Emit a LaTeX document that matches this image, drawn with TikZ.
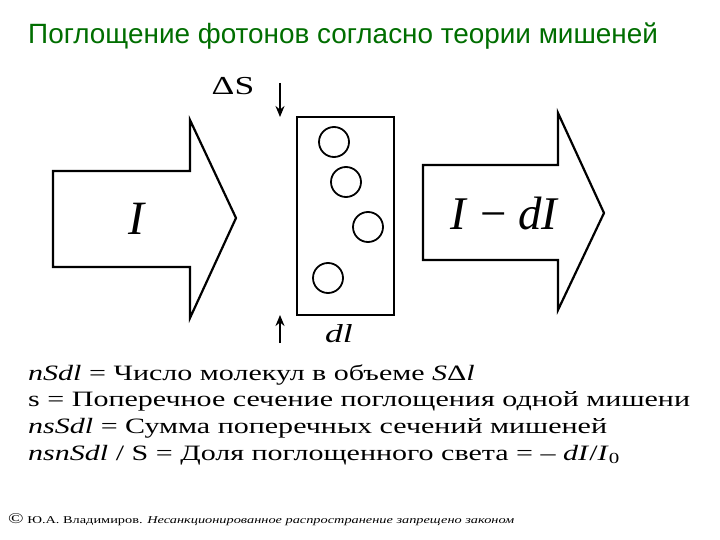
\documentclass[tikz,border=0pt]{standalone}
\usepackage{fontspec}
\usetikzlibrary{arrows.meta}
\setmainfont{Liberation Serif}
\newfontfamily\titlefont{Liberation Sans}
\newfontfamily\notefont{Liberation Serif}[FakeStretch=1.37]
\definecolor{titlegreen}{RGB}{0,110,0}
\begin{document}
\begin{tikzpicture}[x=1bp,y=-1bp]
\tikzstyle{beam}=[draw=black,line width=2.2bp,line join=miter,fill=white]
\tikzstyle{target}=[draw=black,line width=1.8bp]
\tikzstyle{label}=[anchor=base,inner sep=0pt]
\tikzstyle{arrow}=[-{Stealth[length=11bp,width=9bp]},line width=2bp]
\tikzstyle{line}=[anchor=base west,inner sep=0pt,font=\notefont\fontsize{22}{26}\selectfont]

\useasboundingbox [fill=white] (0,0) rectangle (720,540);

\node [anchor=base west,inner sep=0pt,text=titlegreen,font=\titlefont\fontsize{28}{32}\selectfont] at (28,44) (title) {Поглощение фотонов согласно теории мишеней};

% incoming and outgoing beam
\draw [beam] (53,171) -- (190,171) -- (190,120) -- (236,218) -- (190,318) -- (190,267) -- (53,267) -- cycle;
\draw [beam] (423,165) -- (558,165) -- (558,113) -- (604,213) -- (558,310) -- (558,260) -- (423,260) -- cycle;
\node [label,font=\fontsize{48}{48}\selectfont] at (137,235) (in) {\textit{I}};
\node [label,font=\fontsize{47}{47}\selectfont] at (505,230) (out) {\textit{I} − \textit{dI}};

% layer with targets
\draw [target] (297,117) rectangle (394,315);
\draw [target] (334,142) circle (15);
\draw [target] (346,182) circle (15);
\draw [target] (368,227) circle (15);
\draw [target] (328,278) circle (15);

\node [label,font=\notefont\fontsize{26}{26}\selectfont] at (233,95) (area) {ΔS};
\node [label,font=\notefont\fontsize{26}{26}\selectfont] at (339,342) (dl) {\textit{dl}};
\coordinate (top1) at (280,83);
\coordinate (top2) at (280,117);
\coordinate (bot1) at (280,343);
\coordinate (bot2) at (280,315);
\draw [arrow] (top1) -- (top2);
\draw [arrow] (bot1) -- (bot2);

\node [line] at (28,380) (l1) {\textit{nSdl} = Число молекул в объеме \textit{S}Δ\textit{l}};
\node [line] at (28,406) (l2) {s = Поперечное сечение поглощения одной мишени};
\node [line] at (28,433) (l3) {\textit{nsSdl} = Сумма поперечных сечений мишеней};
\node [line] at (28,460) (l4) {\textit{nsnSdl} / S = Доля поглощенного света = – \textit{dI}/\textit{I}\textsubscript{0}};

\node [anchor=base west,inner sep=0pt,font=\notefont\fontsize{10.5}{12}\selectfont] at (8,523) (copy) {{\fontsize{15}{15}\selectfont ©} Ю.А. Владимиров. \textit{Несанкционированное распространение запрещено законом}};
\end{tikzpicture}
\end{document}
